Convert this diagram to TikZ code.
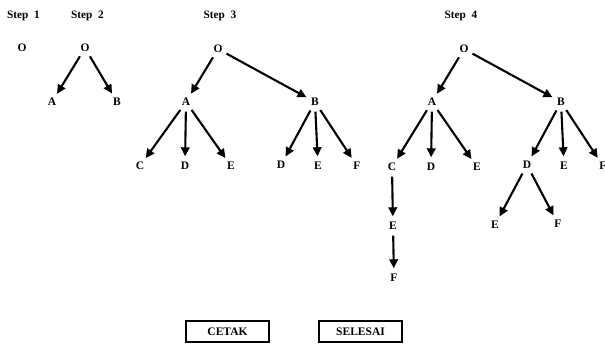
\documentclass[tikz,border=0pt]{standalone}
\usepackage{fontspec}
\setmainfont{Liberation Serif}
\usetikzlibrary{arrows.meta}
\begin{document}
\begin{tikzpicture}[x=1pt,y=-1pt,
  lbl/.style={circle,inner sep=0pt,minimum size=19pt,font=\fontsize{11.5}{13}\selectfont\bfseries},
  ttl/.style={inner sep=0pt,font=\fontsize{11.3}{13}\selectfont\bfseries},
  arr/.style={line width=2.1pt,-{Triangle[length=9pt,width=8.5pt]}},
  btn/.style={draw,line width=1.8pt,minimum width=83pt,minimum height=21pt,inner sep=0pt,font=\fontsize{11.5}{13}\selectfont\bfseries}
]
\useasboundingbox (0,0) rectangle (605,347);
% titles
\node[ttl] (s1) at (23.5,16) {Step\ \ 1};
\node[ttl] (s2) at (87.5,16) {Step\ \ 2};
\node[ttl] (s3) at (220,16) {Step\ \ 3};
\node[ttl] (s4) at (461,16) {Step\ \ 4};
% step 1
\node[lbl] (o1) at (22,48) {O};
% step 2
\node[lbl] (o2) at (85,48) {O};
\node[lbl] (a2) at (52,102) {A};
\node[lbl] (b2) at (117,102) {B};
\draw[arr] (o2) -- (a2);
\draw[arr] (o2) -- (b2);
% step 3
\node[lbl] (o3) at (218,49) {O};
\node[lbl] (a3) at (186,102) {A};
\node[lbl] (b3) at (315,102) {B};
\node[lbl] (c3) at (140,166) {C};
\node[lbl] (d3) at (185,166) {D};
\node[lbl] (e3) at (231,166) {E};
\node[lbl] (d3b) at (281,165) {D};
\node[lbl] (e3b) at (318,166) {E};
\node[lbl] (f3b) at (357,166) {F};
\draw[arr] (o3) -- (a3);
\draw[arr] (o3) -- (b3);
\draw[arr] (a3) -- (c3);
\draw[arr] (a3) -- (d3);
\draw[arr] (a3) -- (e3);
\draw[arr] (b3) -- (d3b);
\draw[arr] (b3) -- (e3b);
\draw[arr] (b3) -- (f3b);
% step 4
\node[lbl] (o4) at (464,49) {O};
\node[lbl] (a4) at (432,102) {A};
\node[lbl] (b4) at (561,102) {B};
\node[lbl] (c4) at (392,167) {C};
\node[lbl] (d4) at (431,167) {D};
\node[lbl] (e4) at (477,167) {E};
\node[lbl] (d4b) at (527,165) {D};
\node[lbl] (e4b) at (564,166) {E};
\node[lbl] (f4b) at (603,166) {F};
\node[lbl] (e4c) at (393,226) {E};
\node[lbl] (f4c) at (394,278) {F};
\node[lbl] (e4d) at (495,225) {E};
\node[lbl] (f4d) at (558,224) {F};
\draw[arr] (o4) -- (a4);
\draw[arr] (o4) -- (b4);
\draw[arr] (a4) -- (c4);
\draw[arr] (a4) -- (d4);
\draw[arr] (a4) -- (e4);
\draw[arr] (b4) -- (d4b);
\draw[arr] (b4) -- (e4b);
\draw[arr] (b4) -- (f4b);
\draw[arr] (c4) -- (e4c);
\draw[arr] (e4c) -- (f4c);
\draw[arr] (d4b) -- (e4d);
\draw[arr] (d4b) -- (f4d);
% buttons
\node[btn] (cetak) at (227.5,331.5) {CETAK};
\node[btn] (selesai) at (360.5,331.5) {SELESAI};
\end{tikzpicture}
\end{document}
